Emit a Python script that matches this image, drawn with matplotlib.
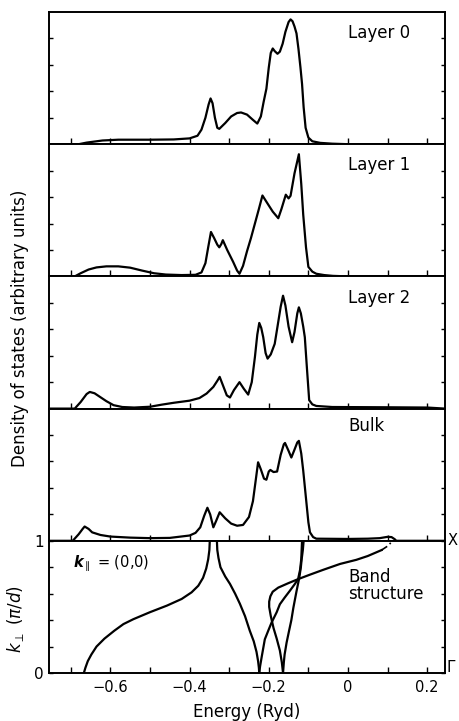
import matplotlib
matplotlib.use('Agg')
import matplotlib.pyplot as plt

plt.rcParams['font.family'] = ['DejaVu Sans']

# ---- density of states curves (energy in Ryd, DOS arb. units)
layer0_E = [-0.755, -0.68, -0.66, -0.62, -0.58, -0.50, -0.44, -0.40, -0.38, -0.37, -0.36, -0.352,
            -0.347, -0.342, -0.336, -0.33, -0.325, -0.31, -0.295, -0.28, -0.27, -0.255, -0.24,
            -0.229, -0.22, -0.213, -0.206, -0.2, -0.195, -0.19, -0.185, -0.178, -0.172, -0.165,
            -0.158, -0.15, -0.145, -0.14, -0.135, -0.13, -0.125, -0.12, -0.116, -0.112, -0.107,
            -0.10, -0.09, -0.07, -0.04, 0.0, 0.245]
layer0_D = [0, 0, 0.06, 0.14, 0.17, 0.17, 0.18, 0.22, 0.32, 0.55, 1.0, 1.5,
            1.73, 1.55, 1.0, 0.62, 0.58, 0.8, 1.05, 1.18, 1.2, 1.12, 0.92,
            0.78, 1.05, 1.6, 2.1, 2.9, 3.45, 3.62, 3.52, 3.42, 3.5, 3.8,
            4.25, 4.62, 4.72, 4.65, 4.45, 4.19, 3.6, 2.9, 2.28, 1.4, 0.62,
            0.25, 0.11, 0.05, 0.02, 0.0, 0.0]

layer1_E = [-0.755, -0.69, -0.675, -0.655, -0.635, -0.61, -0.58, -0.55, -0.52, -0.49, -0.46, -0.42,
            -0.385, -0.37, -0.36, -0.353, -0.346, -0.338, -0.33, -0.325, -0.32, -0.316, -0.305,
            -0.29, -0.28, -0.274, -0.265, -0.255, -0.245, -0.235, -0.225, -0.216, -0.205, -0.19,
            -0.176, -0.168, -0.157, -0.15, -0.145, -0.135, -0.124, -0.118, -0.113, -0.106, -0.1,
            -0.09, -0.08, -0.06, -0.038, 0.0, 0.245]
layer1_D = [0, 0, 0.12, 0.26, 0.34, 0.38, 0.38, 0.33, 0.22, 0.12, 0.07, 0.05,
            0.06, 0.15, 0.5, 1.1, 1.68, 1.45, 1.2, 1.1, 1.22, 1.37, 1.0,
            0.55, 0.22, 0.1, 0.4, 0.95, 1.45, 2.0, 2.55, 3.06, 2.8, 2.45,
            2.2, 2.55, 3.09, 2.95, 3.05, 3.9, 4.62, 3.5, 2.33, 1.1, 0.36,
            0.18, 0.1, 0.05, 0.02, 0.0, 0.0]

layer2_E = [-0.755, -0.69, -0.675, -0.66, -0.652, -0.64, -0.626, -0.61, -0.592, -0.57, -0.54, -0.50,
            -0.47, -0.44, -0.40, -0.375, -0.357, -0.34, -0.33, -0.324, -0.315, -0.306, -0.298,
            -0.288, -0.274, -0.263, -0.252, -0.243, -0.235, -0.229, -0.224, -0.219, -0.214, -0.208,
            -0.203, -0.195, -0.185, -0.178, -0.17, -0.164, -0.158, -0.15, -0.141, -0.135, -0.128,
            -0.124, -0.119, -0.113, -0.109, -0.104, -0.098, -0.09, -0.08, -0.04, 0.10, 0.20, 0.245]
layer2_D = [0, 0, 0.25, 0.55, 0.63, 0.58, 0.44, 0.28, 0.13, 0.06, 0.04, 0.07,
            0.15, 0.22, 0.3, 0.4, 0.57, 0.82, 1.05, 1.2, 0.85, 0.5, 0.42,
            0.7, 1.0, 0.75, 0.53, 1.0, 1.95, 2.8, 3.24, 3.05, 2.7, 2.1,
            1.89, 2.05, 2.45, 3.1, 3.85, 4.27, 3.9, 3.1, 2.51, 2.9, 3.6,
            3.83, 3.6, 3.1, 2.7, 1.6, 0.32, 0.16, 0.1, 0.06, 0.05, 0.04, 0.0]

bulk_E = [-0.755, -0.695, -0.68, -0.67, -0.665, -0.655, -0.646, -0.625, -0.6, -0.55, -0.5, -0.45,
          -0.4, -0.385, -0.373, -0.363, -0.355, -0.348, -0.34, -0.333, -0.324, -0.31, -0.295,
          -0.28, -0.265, -0.25, -0.24, -0.232, -0.227, -0.22, -0.212, -0.206, -0.2, -0.196,
          -0.188, -0.179, -0.17, -0.162, -0.159, -0.15, -0.143, -0.135, -0.128, -0.124, -0.118,
          -0.113, -0.106, -0.1, -0.096, -0.088, -0.08, 0.0, 0.05, 0.08, 0.1, 0.11, 0.118, 0.122, 0.245]
bulk_D = [0, 0, 0.25, 0.45, 0.54, 0.45, 0.32, 0.22, 0.16, 0.12, 0.1, 0.11,
          0.2, 0.3, 0.51, 0.95, 1.25, 1.0, 0.51, 0.75, 1.08, 0.85, 0.65,
          0.57, 0.6, 0.9, 1.5, 2.4, 2.97, 2.7, 2.35, 2.31, 2.62, 2.68,
          2.6, 2.62, 3.25, 3.65, 3.7, 3.4, 3.15, 3.45, 3.72, 3.78, 3.3,
          2.65, 1.6, 0.7, 0.32, 0.14, 0.08, 0.07, 0.08, 0.1, 0.15, 0.14, 0.06, 0.0, 0.0]

panel_names = ['Layer 0', 'Layer 1', 'Layer 2', 'Bulk']

# ---- band structure along k_perp at k_par = (0,0): (energy, k) pairs
band1_E = [-0.667, -0.663, -0.657, -0.648, -0.635, -0.615, -0.59, -0.567, -0.542, -0.5, -0.457,
           -0.42, -0.395, -0.378, -0.366, -0.358, -0.353, -0.35, -0.349]
band1_k = [0, 0.04, 0.09, 0.14, 0.2, 0.26, 0.32, 0.37, 0.407, 0.46, 0.51,
           0.56, 0.61, 0.66, 0.72, 0.79, 0.86, 0.93, 1.0]
band2_E = [-0.331, -0.33, -0.327, -0.322, -0.31, -0.298, -0.285, -0.273, -0.26, -0.248, -0.238,
           -0.231, -0.227, -0.225, -0.224]
band2_k = [1.0, 0.93, 0.87, 0.8, 0.73, 0.674, 0.6, 0.524, 0.43, 0.32, 0.24,
           0.16, 0.09, 0.04, 0.0]
band3_E = [-0.224, -0.222, -0.218, -0.21, -0.2, -0.193, -0.18, -0.172, -0.16, -0.147, -0.135,
           -0.126, -0.121, -0.118, -0.117, -0.116]
band3_k = [0, 0.05, 0.12, 0.255, 0.33, 0.381, 0.46, 0.52, 0.57, 0.621, 0.67,
           0.71, 0.78, 0.86, 0.93, 1.0]
band4_E = [-0.164, -0.167, -0.172, -0.18, -0.188, -0.195, -0.199, -0.199, -0.196, -0.19, -0.176,
           -0.151, -0.126, -0.095, -0.063, -0.02, 0.021, 0.05, 0.071, 0.085]
band4_k = [0, 0.08, 0.17, 0.26, 0.34, 0.432, 0.5, 0.54, 0.58, 0.615, 0.646,
           0.679, 0.71, 0.745, 0.78, 0.825, 0.856, 0.885, 0.912, 0.93]
band4_tail_E = [0.085, 0.1, 0.113]
band4_tail_k = [0.93, 0.96, 1.0]
band5_E = [-0.164, -0.162, -0.16, -0.155, -0.149, -0.143, -0.138, -0.13, -0.123, -0.119, -0.117,
           -0.114, -0.112]
band5_k = [0, 0.08, 0.14, 0.23, 0.316, 0.4, 0.492, 0.618, 0.72, 0.8, 0.86,
           0.93, 1.0]

xticks = [-0.6, -0.4, -0.2, 0, 0.2]
xticklabels = ['\u22120.6', '\u22120.4', '\u22120.2', '0', '0.2']
xminor = [-0.7, -0.5, -0.3, -0.1, 0.1]

fig, axes = plt.subplots(5, 1, sharex=True, figsize=(4.59, 7.21), dpi=100,
                         gridspec_kw=dict(hspace=0))
fig.subplots_adjust(left=49/459, right=445/459, top=1-12/721, bottom=1-673/721)

lw = 1.6
dos = [(layer0_E, layer0_D), (layer1_E, layer1_D), (layer2_E, layer2_D), (bulk_E, bulk_D)]
for ax, (E, D), name in zip(axes[:4], dos, panel_names):
    ax.plot(E, D, color='black', lw=lw)
    ax.set_ylim(0, 5)
    ax.set_yticks([1, 2, 3, 4])
    ax.set_yticklabels([])
    ytxt = 4.35 if name == 'Bulk' else 4.2
    ax.text(0.0, ytxt, name, fontsize=12, ha='left', va='center')

ax = axes[4]
for E, k in [(band1_E, band1_k), (band2_E, band2_k), (band3_E, band3_k),
             (band4_E, band4_k), (band5_E, band5_k)]:
    ax.plot(E, k, color='black', lw=lw)
ax.plot(band4_tail_E, band4_tail_k, color='black', lw=1.2, ls=(0, (4, 2, 1, 2)))
ax.set_ylim(0, 1)
ax.set_yticks([0, 0.2, 0.4, 0.6, 0.8, 1.0])
ax.set_yticklabels(['0', '', '', '', '', '1'], fontsize=11)
ax.text(-0.694, 0.83, r'$\boldsymbol{k}_{\parallel}$ = (0,0)', fontsize=10.5, ha='left', va='center')
ax.text(0.0, 0.66, 'Band\nstructure', fontsize=12, ha='left', va='center', linespacing=0.95)
ax.text(1.006, 1.0, 'X', transform=ax.transAxes, fontsize=10.5, ha='left', va='center')
ax.text(1.005, 0.04, '\u0393', transform=ax.transAxes, fontsize=11, ha='left', va='center')

ax.set_xlim(-0.755, 0.245)
ax.set_xticks(xticks)
ax.set_xticks(xminor, minor=True)
ax.set_xticklabels(xticklabels, fontsize=10.5)
ax.set_xlabel('Energy (Ryd)', fontsize=12, labelpad=6)

for a in axes:
    a.tick_params(axis='x', which='both', direction='in', length=4, width=1,
                  top=False, bottom=True, pad=5)
    a.tick_params(axis='y', which='both', direction='in', length=3, width=1,
                  left=True, right=True, pad=4)
    for s in a.spines.values():
        s.set_linewidth(1.4)

fig.text(20/459, 1-328/721, 'Density of states (arbitrary units)', rotation=90,
         fontsize=12, ha='center', va='center')
fig.text(15/459, 1-619/721, r'$k_{\perp}$ ($\pi$/$d$)', rotation=90,
         fontsize=12, ha='center', va='center')

fig.savefig('out.png', dpi=100)
